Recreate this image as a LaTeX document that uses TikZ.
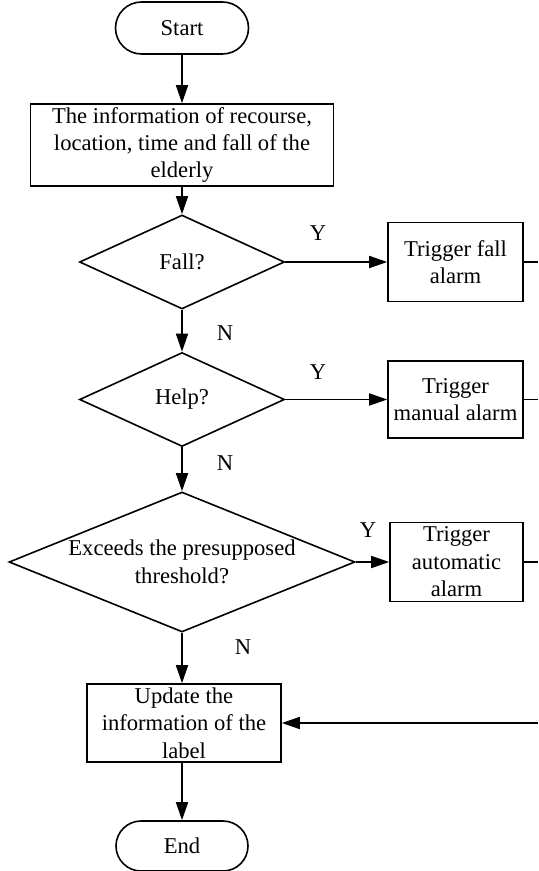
\documentclass[tikz,border=0pt]{standalone}
\usepackage{fontspec}
\setmainfont{Liberation Serif}
\usetikzlibrary{shapes.geometric}
\usetikzlibrary{shapes.misc}
\usetikzlibrary{arrows.meta}

\tikzset{
    term/.style={draw, rounded rectangle, minimum width=66.5pt, minimum height=26pt, inner sep=0pt},
    proc/.style={draw, rectangle, align=center, inner sep=1pt},
    decide/.style={draw, diamond, align=center, inner sep=0pt},
    yn/.style={inner sep=0pt},
    >={Triangle[length=9pt,width=6pt]}
}

\begin{document}
\begin{tikzpicture}[x=0.5pt, y=-0.5pt, line width=0.8pt, font=\fontsize{11.3}{13.7}\selectfont]
    \useasboundingbox (0,0) rectangle (538,871);
    \node[term] (start) at (182,28) {Start};
    \node[proc, minimum width=151.5pt, minimum height=41pt] (info) at (182,145)
        {The information of recourse,\\location, time and fall of the\\elderly};
    \node[decide, minimum width=102.5pt, minimum height=47pt] (fall) at (182,262) {Fall?};
    \node[decide, minimum width=102.5pt, minimum height=47pt] (help) at (182,399.5) {Help?};
    \node[decide, minimum width=173pt, minimum height=70pt, aspect=2.47] (exceed) at (182,562)
        {Exceeds the presupposed\\threshold?};
    \node[proc, minimum width=97pt, minimum height=39pt] (update) at (184,723)
        {Update the\\information of the\\label};
    \node[term, minimum width=66pt, minimum height=25pt] (end) at (182,846) {End};

    \node[proc, minimum width=67.5pt, minimum height=39.5pt] (tfall) at (455.5,262) {Trigger fall\\alarm};
    \node[proc, minimum width=67.5pt, minimum height=38.5pt] (tman) at (455.5,399.5) {Trigger\\manual alarm};
    \node[proc, minimum width=66.5pt, minimum height=39.5pt] (tauto) at (456.5,562) {Trigger\\automatic\\alarm};

    \node[yn] (y1) at (318,233) {Y};
    \node[yn] (y2) at (318,372) {Y};
    \node[yn] (y3) at (368,530) {Y};
    \node[yn] (n1) at (225,333) {N};
    \node[yn] (n2) at (225,463) {N};
    \node[yn] (n3) at (243,647) {N};

    \coordinate (rfall) at (538,262);
    \coordinate (rman) at (538,399.5);
    \coordinate (rauto) at (538,562);
    \coordinate (rback) at (538,723);

    \path[->] (start) edge (info);
    \path[->] (info) edge (fall);
    \path[->] (fall) edge (help);
    \path[->] (help) edge (exceed);
    \path[->] (exceed) edge (exceed.south |- update.north);
    \path[->] (update.south -| end) edge (end);
    \path[->] (fall) edge (tfall);
    \path[->] (help) edge (tman);
    \path[->] (exceed) edge (tauto);
    \draw (tfall) -- (rfall);
    \draw (tman) -- (rman);
    \draw (tauto) -- (rauto);
    \path[->] (rback) edge (update);
\end{tikzpicture}
\end{document}
